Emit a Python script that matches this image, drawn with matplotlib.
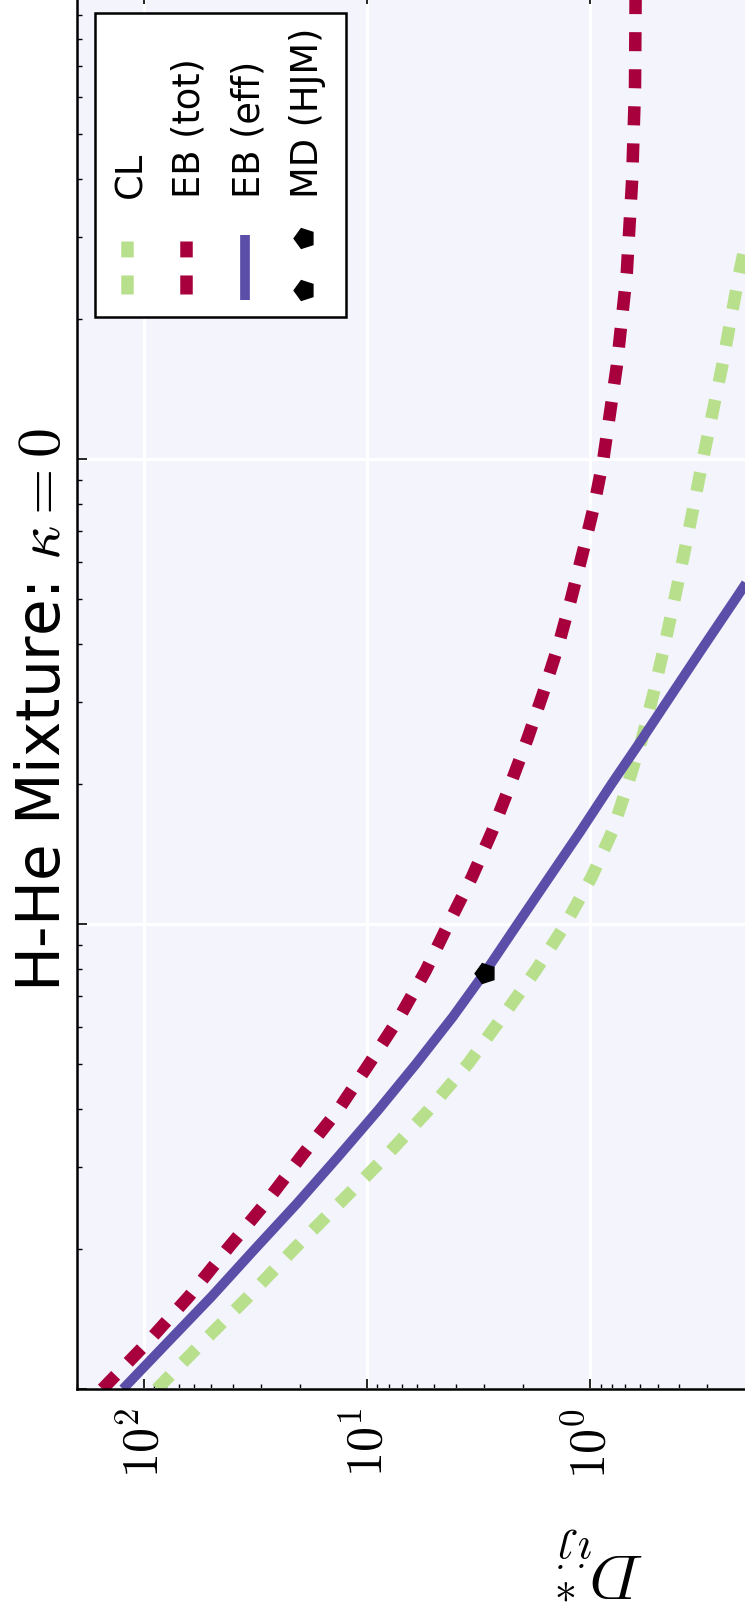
import numpy as np
import matplotlib.pyplot as plt
from matplotlib.lines import Line2D
from matplotlib.patches import Rectangle
from matplotlib.ticker import FixedLocator, FuncFormatter, LogLocator, NullFormatter

plt.rcParams['mathtext.fontset'] = 'cm'
plt.rcParams['lines.scale_dashes'] = False

# --- data read off the (rotated) figure ---
# coupling parameter runs along the vertical, D*_ij along the horizontal
gamma = [0.1, 0.126, 0.158, 0.2, 0.251, 0.316, 0.398, 0.501, 0.631, 0.794,
         1.0, 1.26, 1.58, 2.0, 2.51, 3.16, 3.98, 5.01, 6.31, 7.94,
         10, 15.8, 25.1, 39.8, 63.1, 100]
d_cl = [87.7, 54.7, 34.1, 21.3, 13.3, 8.28, 5.31, 3.53, 2.48, 1.76,
        1.29, 0.989, 0.798, 0.679, 0.586, 0.519, 0.465, 0.419, 0.379, 0.344,
        0.313, 0.257, 0.215, 0.176, 0.148, 0.123]
d_eb_tot = [153.8, 96.6, 63.1, 42.4, 28.6, 19.8, 13.5, 9.79, 7.16, 5.47,
            4.33, 3.40, 2.76, 2.28, 1.91, 1.62, 1.39, 1.22, 1.08, 0.962,
            0.875, 0.762, 0.687, 0.650, 0.631, 0.627]
gamma_eff = [0.1, 0.126, 0.158, 0.2, 0.251, 0.316, 0.398, 0.501, 0.631, 0.794,
             1.0, 1.26, 1.58, 2.0, 2.51, 3.16, 3.98, 5.01, 6.31, 7.94, 10]
d_eb_eff = [124.5, 78.5, 49.9, 31.9, 20.6, 13.5, 8.93, 6.03, 4.14, 2.93,
            2.12, 1.53, 1.11, 0.804, 0.583, 0.424, 0.308, 0.223, 0.162, 0.117, 0.085]
md_gamma = [0.785]
md_d = [2.98]

labels = ['CL', 'EB (tot)', 'EB (eff)', 'MD (HJM)']
title = r'H-He Mixture: $\kappa=0$'
d_ticks = [100, 10, 1]

# styles
c_cl = '#b8e08c'
c_tot = '#a8003c'
c_eff = '#5a4ea8'
dash = (13.7, 13.0)

W, H = 745, 1613
fig = plt.figure(figsize=(W / 100, H / 100), dpi=100)


def px(x, y):
    # pixel position (from top-left) -> figure fraction
    return x / W, 1 - y / H


ax = fig.add_axes([77 / W, (H - 1389) / H, 736.5 / W, 1395 / H])
ax.set_facecolor('#f3f4fc')

ax.plot(d_cl, gamma, color=c_cl, lw=9, dashes=dash, dash_capstyle='butt')
ax.plot(d_eb_tot, gamma, color=c_tot, lw=9, dashes=dash, dash_capstyle='butt')
ax.plot(d_eb_eff, gamma_eff, color=c_eff, lw=7, solid_capstyle='butt')
ax.plot(md_d, md_gamma, linestyle='none', marker=(5, 0, 90), color='black', ms=15, zorder=4)

ax.set_xscale('log')
ax.set_yscale('log')
ax.set_xlim(200, 0.1)
ax.set_ylim(0.1, 100)

ax.xaxis.set_major_locator(FixedLocator(d_ticks))
ax.xaxis.set_major_formatter(FuncFormatter(lambda v, p: r'$10^{%d}$' % round(np.log10(v))))
ax.xaxis.set_minor_locator(LogLocator(subs=np.arange(2, 10)))
ax.xaxis.set_minor_formatter(NullFormatter())
ax.yaxis.set_minor_locator(LogLocator(subs=np.arange(2, 10)))
ax.yaxis.set_minor_formatter(NullFormatter())

ax.tick_params(which='both', direction='in', top=True, right=True,
               labelleft=False, labelright=False)
ax.tick_params(which='major', length=7, width=1.2)
ax.tick_params(which='minor', length=3.5, width=1.0)
ax.tick_params(axis='x', labelsize=36, labelrotation=90, pad=14)

ax.grid(True, which='major', color='white', lw=2.2)
ax.set_axisbelow(True)
for s in ax.spines.values():
    s.set_linewidth(1.8)

# title and axis label (rotated like the reference)
fig.text(*px(60, 710), title, rotation=90, rotation_mode='anchor',
         ha='center', va='baseline', fontsize=43)
fig.text(*px(600, 1562), r'$D^*_{ij}$', rotation=180, ha='center', va='center', fontsize=46)

# legend, drawn by hand because it is turned on its side
x0, y0 = px(95, 317)
x1, y1 = px(346, 13)
fig.add_artist(Rectangle((x0, y0), x1 - x0, y1 - y0, transform=fig.transFigure,
                         facecolor='white', edgecolor='black', lw=1.8, zorder=5))

rows = [141, 200, 259, 318]
handle_x = [b - 14 for b in rows]
for hx, col in zip(handle_x[:2], [c_cl, c_tot]):
    fig.add_artist(Line2D([hx / W] * 2, [1 - 294 / H, 1 - 241 / H], transform=fig.transFigure,
                          color=col, lw=9, dashes=dash, dash_capstyle='butt', zorder=6))
fig.add_artist(Line2D([handle_x[2] / W] * 2, [1 - 300 / H, 1 - 235 / H], transform=fig.transFigure,
                      color=c_eff, lw=7, solid_capstyle='butt', zorder=6))
fig.add_artist(Line2D([handle_x[3] / W] * 2, [1 - 290 / H, 1 - 238 / H], transform=fig.transFigure,
                      linestyle='none', marker=(5, 0, 90), color='black', ms=15, zorder=6))

for b, lab in zip(rows, labels):
    fig.text(*px(b, 198), lab, rotation=90, rotation_mode='anchor',
             ha='left', va='baseline', fontsize=26.5, zorder=7)

fig.savefig('out.png', dpi=100)
